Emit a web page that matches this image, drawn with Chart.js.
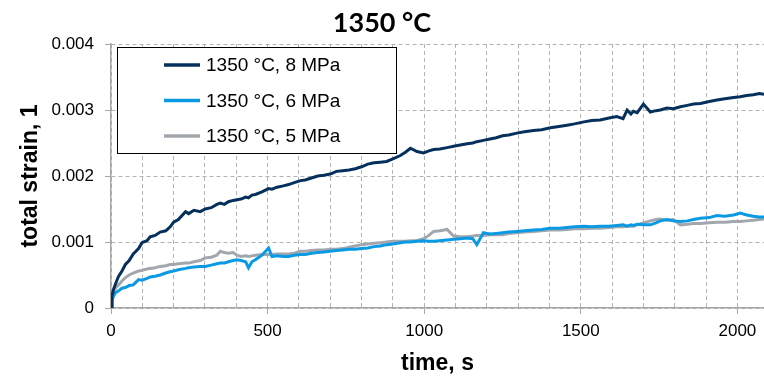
<!DOCTYPE html>
<html>
<head>
<meta charset="utf-8">
<script src="https://cdn.jsdelivr.net/npm/chart.js@4.4.0/dist/chart.umd.min.js"></script>
<style>
  html, body { margin: 0; padding: 0; background: #fff; }
  #wrap { width: 764px; height: 378px; }
</style>
</head>
<body>
<div id="wrap"><canvas id="myChart" width="764" height="378"></canvas></div>
<script>
// time, s (shared by all three curves)
const times = [
    0, 3, 8, 14, 24, 35, 46, 58, 71, 88,
    99, 115, 125, 141, 157, 175, 189, 200, 215, 238,
    248, 265, 285, 301, 320, 338, 349, 362, 375, 390,
    402, 415, 430, 439, 450, 461, 482, 503, 514, 530,
    550, 567, 585, 605, 620, 640, 660, 680, 700, 720,
    740, 760, 780, 800, 820, 840, 860, 880, 900, 924,
    940, 956, 977, 998, 1015, 1030, 1050, 1073, 1094, 1115,
    1137, 1155, 1168, 1189, 1210, 1230, 1250, 1270, 1296, 1320,
    1349, 1375, 1403, 1430, 1456, 1480, 1510, 1535, 1562, 1590,
    1615, 1635, 1648, 1660, 1668, 1680, 1700, 1722, 1740, 1754,
    1775, 1796, 1818, 1840, 1860, 1882, 1910, 1935, 1960, 1988,
    2009, 2030, 2051, 2070, 2085
];

// total strain, 1350 °C 8 MPa
const strain8 = [
    0.00000, 0.00018, 0.00028, 0.00036, 0.00048, 0.00056, 0.00066, 0.00072, 0.00082, 0.00090,
    0.00099, 0.00102, 0.00108, 0.00110, 0.00115, 0.00117, 0.00123, 0.00130, 0.00134, 0.00146,
    0.00143, 0.00148, 0.00146, 0.00150, 0.00152, 0.00157, 0.00159, 0.00157, 0.00161, 0.00163,
    0.00164, 0.00165, 0.00168, 0.00167, 0.00171, 0.00172, 0.00176, 0.00181, 0.00180, 0.00183,
    0.00185, 0.00187, 0.00190, 0.00193, 0.00194, 0.00197, 0.00200, 0.00201, 0.00203, 0.00207,
    0.00208, 0.00209, 0.00211, 0.00214, 0.00218, 0.00220, 0.00221, 0.00222, 0.00226, 0.00231,
    0.00236, 0.00242, 0.00237, 0.00235, 0.00238, 0.00240, 0.00241, 0.00243, 0.00245, 0.00247,
    0.00249, 0.00250, 0.00252, 0.00254, 0.00256, 0.00258, 0.00261, 0.00262, 0.00265, 0.00267,
    0.00269, 0.00270, 0.00273, 0.00275, 0.00277, 0.00279, 0.00282, 0.00284, 0.00285, 0.00288,
    0.00290, 0.00287, 0.00300, 0.00294, 0.00298, 0.00296, 0.00309, 0.00297, 0.00299, 0.00300,
    0.00303, 0.00302, 0.00305, 0.00307, 0.00309, 0.00310, 0.00313, 0.00315, 0.00317, 0.00319,
    0.00320, 0.00322, 0.00323, 0.00325, 0.00324
];

// total strain, 1350 °C 6 MPa
const strain6 = [
    0.00000, 0.00012, 0.00018, 0.00023, 0.00026, 0.00030, 0.00031, 0.00034, 0.00035, 0.00043,
    0.00042, 0.00045, 0.00047, 0.00048, 0.00050, 0.00053, 0.00055, 0.00056, 0.00058, 0.00060,
    0.00061, 0.00062, 0.00063, 0.00063, 0.00065, 0.00067, 0.00068, 0.00068, 0.00070, 0.00072,
    0.00073, 0.00072, 0.00070, 0.00061, 0.00070, 0.00073, 0.00080, 0.00091, 0.00078, 0.00079,
    0.00078, 0.00078, 0.00080, 0.00081, 0.00081, 0.00083, 0.00084, 0.00085, 0.00086, 0.00087,
    0.00088, 0.00089, 0.00089, 0.00090, 0.00091, 0.00093, 0.00094, 0.00096, 0.00097, 0.00099,
    0.00100, 0.00100, 0.00101, 0.00102, 0.00101, 0.00101, 0.00102, 0.00103, 0.00104, 0.00105,
    0.00106, 0.00105, 0.00096, 0.00114, 0.00112, 0.00113, 0.00114, 0.00115, 0.00116, 0.00117,
    0.00118, 0.00119, 0.00121, 0.00121, 0.00122, 0.00123, 0.00124, 0.00123, 0.00124, 0.00124,
    0.00125, 0.00126, 0.00124, 0.00126, 0.00125, 0.00127, 0.00126, 0.00126, 0.00129, 0.00132,
    0.00134, 0.00132, 0.00131, 0.00132, 0.00134, 0.00136, 0.00137, 0.00140, 0.00139, 0.00141,
    0.00144, 0.00141, 0.00139, 0.00138, 0.00138
];

// total strain, 1350 °C 5 MPa
const strain5 = [
    0.00000, 0.00015, 0.00025, 0.00030, 0.00035, 0.00041, 0.00046, 0.00050, 0.00053, 0.00056,
    0.00057, 0.00059, 0.00060, 0.00061, 0.00063, 0.00064, 0.00066, 0.00066, 0.00067, 0.00068,
    0.00068, 0.00070, 0.00072, 0.00076, 0.00077, 0.00080, 0.00086, 0.00084, 0.00083, 0.00084,
    0.00080, 0.00078, 0.00079, 0.00078, 0.00079, 0.00080, 0.00081, 0.00081, 0.00081, 0.00082,
    0.00082, 0.00082, 0.00083, 0.00086, 0.00086, 0.00087, 0.00088, 0.00088, 0.00089, 0.00089,
    0.00090, 0.00092, 0.00094, 0.00096, 0.00097, 0.00098, 0.00099, 0.00100, 0.00101, 0.00101,
    0.00101, 0.00102, 0.00102, 0.00105, 0.00110, 0.00116, 0.00117, 0.00119, 0.00109, 0.00108,
    0.00108, 0.00109, 0.00110, 0.00110, 0.00111, 0.00111, 0.00111, 0.00113, 0.00114, 0.00115,
    0.00116, 0.00117, 0.00118, 0.00118, 0.00119, 0.00120, 0.00120, 0.00121, 0.00121, 0.00122,
    0.00123, 0.00123, 0.00124, 0.00124, 0.00124, 0.00126, 0.00129, 0.00132, 0.00134, 0.00135,
    0.00133, 0.00134, 0.00126, 0.00127, 0.00128, 0.00128, 0.00129, 0.00130, 0.00130, 0.00131,
    0.00131, 0.00132, 0.00133, 0.00134, 0.00135
];

const seriesLabels = ['1350 °C, 8 MPa', '1350 °C, 6 MPa', '1350 °C, 5 MPa'];
const seriesColors = ['#06305c', '#0a9ae4', '#a2a7ad'];
const chartTitle = '1350 °C';

const toPoints = vals => vals.map((v, i) => ({ x: times[i], y: v }));

// title + framed legend inside the plot, drawn by hand
const extras = {
    id: 'extras',
    afterDatasetsDraw(chart) {
        const ctx = chart.ctx;
        const a = chart.chartArea;
        const x0 = a.left + 6, y0 = a.top + 3, w = 279, h = 106;
        ctx.save();
        ctx.fillStyle = '#fff';
        ctx.fillRect(x0, y0, w, h);
        ctx.strokeStyle = '#000';
        ctx.lineWidth = 1;
        ctx.strokeRect(x0 + 0.5, y0 + 0.5, w, h);
        ctx.font = '19px "Liberation Sans", Arial, sans-serif';
        ctx.textBaseline = 'middle';
        ctx.textAlign = 'left';
        chart.data.datasets.forEach((ds, i) => {
            const y = y0 + 18 + i * 35.5;
            ctx.strokeStyle = ds.borderColor;
            ctx.lineWidth = 3.5;
            ctx.beginPath();
            ctx.moveTo(x0 + 47, y);
            ctx.lineTo(x0 + 83, y);
            ctx.stroke();
            ctx.fillStyle = '#000';
            ctx.fillText(ds.label, x0 + 89, y + 1);
        });
        ctx.restore();
    },
    afterDraw(chart) {
        const ctx = chart.ctx;
        ctx.save();
        ctx.font = 'bold 27px Lato, "Open Sans", sans-serif';
        ctx.fillStyle = '#000';
        ctx.textAlign = 'center';
        ctx.textBaseline = 'middle';
        ctx.fillText(chartTitle, chart.width / 2, 23);
        ctx.restore();
    }
};

const ctx = document.getElementById('myChart').getContext('2d');
new Chart(ctx, {
    type: 'line',
    data: {
        datasets: [strain8, strain6, strain5].map((vals, i) => ({
            label: seriesLabels[i],
            data: toPoints(vals),
            borderColor: seriesColors[i],
            borderWidth: 3,
            pointRadius: 0,
            tension: 0,
            fill: false
        }))
    },
    plugins: [extras],
    options: {
        responsive: false,
        animation: false,
        layout: { padding: { top: 44, right: 0, left: 0, bottom: 0 } },
        plugins: { legend: { display: false }, title: { display: false }, tooltip: { enabled: false } },
        scales: {
            x: {
                type: 'linear',
                min: 0,
                max: 2085,
                afterFit: s => { s.height = 70; },
                ticks: {
                    stepSize: 100,
                    includeBounds: false,
                    autoSkip: false,
                    maxRotation: 0,
                    padding: 7,
                    color: '#000',
                    font: { family: '"Liberation Sans", Arial, sans-serif', size: 17 },
                    callback: v => (v % 500 === 0 ? String(v) : '')
                },
                grid: {
                    color: '#b3b3b3',
                    lineWidth: 1,
                    tickLength: 6,
                    tickBorderDash: [],
                    tickColor: c => (c.tick && c.tick.value % 500 === 0 ? '#a6a6a6' : 'rgba(0,0,0,0)')
                },
                // in v4 border.dash dashes the grid lines; the axis line stays solid
                border: { color: '#a6a6a6', width: 1.5, dash: [4, 3] },
                title: {
                    display: true,
                    text: 'time, s',
                    color: '#000',
                    font: { family: '"Liberation Sans", Arial, sans-serif', size: 23, weight: 'bold' },
                    padding: { top: 0, bottom: 1 }
                }
            },
            y: {
                min: 0,
                max: 0.004,
                afterFit: s => { s.width = 111; },
                ticks: {
                    stepSize: 0.001,
                    padding: 11,
                    color: '#000',
                    font: { family: '"Liberation Sans", Arial, sans-serif', size: 17 },
                    callback: v => (v === 0 ? '0' : v.toFixed(3))
                },
                grid: {
                    color: '#b3b3b3',
                    lineWidth: 1,
                    tickLength: 6,
                    tickBorderDash: [],
                    tickColor: '#a6a6a6'
                },
                border: { color: '#a6a6a6', width: 1.5, dash: [4, 3] },
                title: {
                    display: true,
                    text: 'total strain, 1',
                    color: '#000',
                    font: { family: '"Liberation Sans", Arial, sans-serif', size: 23, weight: 'bold' },
                    padding: { top: 17, bottom: 0 }
                }
            }
        }
    }
});
</script>
</body>
</html>
